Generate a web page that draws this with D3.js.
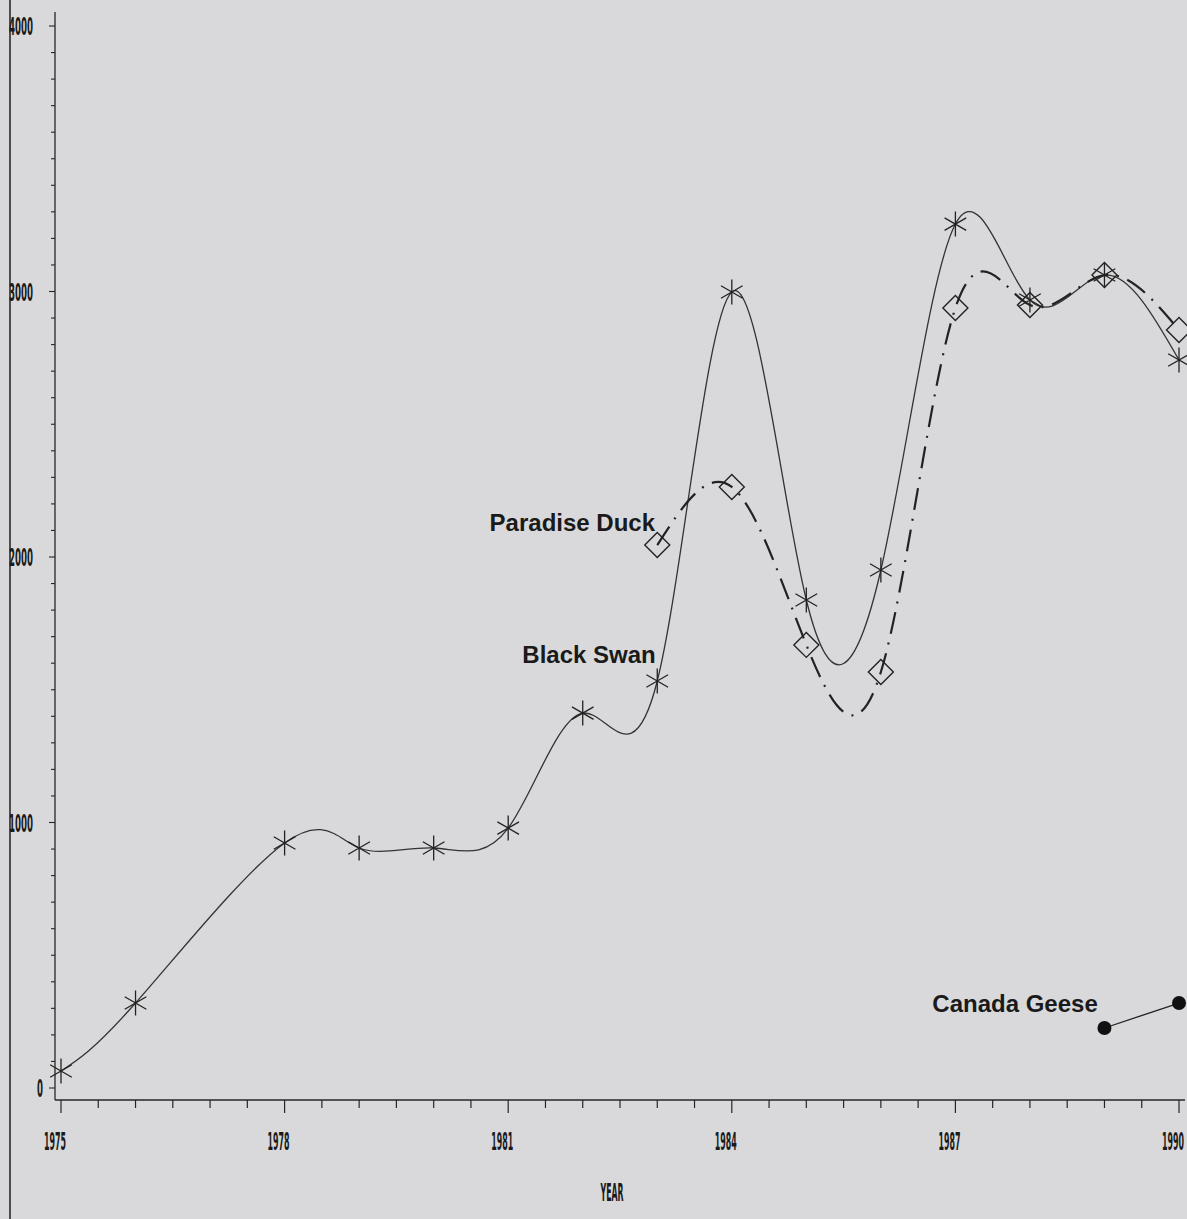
<!DOCTYPE html>
<html>
<head>
<meta charset="utf-8">
<script src="https://cdn.jsdelivr.net/npm/d3@7"></script>
<style>
  body { margin: 0; background: #d9d9db; }
  .tick-label { font-family: "Liberation Sans Narrow", "DejaVu Sans Condensed", sans-serif; font-weight: bold; fill: #1a1a1a; }
  .series-label { font-family: "Liberation Sans", Arial, sans-serif; font-weight: bold; font-size: 24px; fill: #1a1a1a; }
</style>
</head>
<body>
<div id="chart"></div>
<script>
// Data
const swanYears = [1975, 1976, 1978, 1979, 1980, 1981, 1982, 1983, 1984, 1985, 1986, 1987, 1988, 1989, 1990];
const swanValues = [64, 320, 923, 904, 904, 979, 1412, 1533, 2998, 1838, 1951, 3254, 2968, 3062, 2742];

const duckYears = [1983, 1984, 1985, 1986, 1987, 1988, 1989, 1990];
const duckValues = [2045, 2264, 1669, 1567, 2938, 2949, 3062, 2855];

const geeseYears = [1989, 1990];
const geeseValues = [226, 320];

const xTickYears = [1975, 1978, 1981, 1984, 1987, 1990];
const yTickValues = [0, 1000, 2000, 3000, 4000];

// label anchors in data units (year, value)
const labels = [
  { text: "Paradise Duck", year: 1982.97, value: 2098 },
  { text: "Black Swan", year: 1982.98, value: 1601 },
  { text: "Canada Geese", year: 1988.91, value: 286 }
];

const W = 1187, H = 1219;

const svg = d3.select("#chart")
  .append("svg")
  .attr("width", W)
  .attr("height", H);

svg.append("rect").attr("width", W).attr("height", H).attr("fill", "#d9d9db");

// page edge line from the scan
svg.append("line")
  .attr("x1", 10).attr("x2", 10).attr("y1", 0).attr("y2", H)
  .attr("stroke", "#2a2a2a").attr("stroke-width", 1.6);

const x = d3.scaleLinear().domain([1975, 1990]).range([61, 1179]);
const y = d3.scaleLinear().domain([0, 4000]).range([1088, 26]);

const axisY0 = 1100;
const axisX0 = 55;
const ink = "#262626";

// Y axis line and ticks (every 100)
svg.append("line")
  .attr("x1", axisX0).attr("x2", axisX0).attr("y1", 12).attr("y2", axisY0)
  .attr("stroke", ink).attr("stroke-width", 1.3);

svg.append("g").selectAll("line")
  .data(d3.range(0, 4001, 100))
  .join("line")
  .attr("x1", d => d % 1000 === 0 ? axisX0 - 6 : axisX0 - 4)
  .attr("x2", axisX0)
  .attr("y1", d => y(d)).attr("y2", d => y(d))
  .attr("stroke", ink).attr("stroke-width", 1.1);

svg.append("g").selectAll("text")
  .data(yTickValues)
  .join("text")
  .attr("class", "tick-label")
  .attr("x", d => d === 0 ? 43 : 33)
  .attr("y", d => y(d) + 9)
  .attr("text-anchor", "end")
  .attr("font-size", 25)
  .attr("textLength", d => String(d).length * 6)
  .attr("lengthAdjust", "spacingAndGlyphs")
  .text(d => d);

// X axis line and ticks (every half year)
svg.append("line")
  .attr("x1", axisX0).attr("x2", 1185).attr("y1", axisY0).attr("y2", axisY0)
  .attr("stroke", ink).attr("stroke-width", 1.3);

svg.append("g").selectAll("line")
  .data(d3.range(1975, 1990.01, 0.5))
  .join("line")
  .attr("x1", d => x(d)).attr("x2", d => x(d))
  .attr("y1", axisY0)
  .attr("y2", d => (d - 1975) % 3 === 0 ? axisY0 + 13 : axisY0 + 8)
  .attr("stroke", ink).attr("stroke-width", 1.2);

svg.append("g").selectAll("text")
  .data(xTickYears)
  .join("text")
  .attr("class", "tick-label")
  .attr("x", d => x(d) - 6)
  .attr("y", 1150)
  .attr("text-anchor", "middle")
  .attr("font-size", 25)
  .attr("textLength", 22)
  .attr("lengthAdjust", "spacingAndGlyphs")
  .text(d => d);

svg.append("text")
  .attr("class", "tick-label")
  .attr("x", 612)
  .attr("y", 1201)
  .attr("text-anchor", "middle")
  .attr("font-size", 25)
  .attr("textLength", 23)
  .attr("lengthAdjust", "spacingAndGlyphs")
  .text("YEAR");

// Lines
const line = d3.line()
  .x(d => x(d[0]))
  .y(d => y(d[1]))
  .curve(d3.curveNatural);

const swan = swanYears.map((yr, i) => [yr, swanValues[i]]);
const duck = duckYears.map((yr, i) => [yr, duckValues[i]]);
const geese = geeseYears.map((yr, i) => [yr, geeseValues[i]]);

svg.append("path")
  .datum(swan)
  .attr("d", line)
  .attr("fill", "none")
  .attr("stroke", "#333")
  .attr("stroke-width", 1.3);

svg.append("path")
  .datum(duck)
  .attr("d", line)
  .attr("fill", "none")
  .attr("stroke", "#222")
  .attr("stroke-width", 2.2)
  .attr("stroke-dasharray", "22,9,2,9");

svg.append("path")
  .datum(geese)
  .attr("d", d3.line().x(d => x(d[0])).y(d => y(d[1])))
  .attr("fill", "none")
  .attr("stroke", "#222")
  .attr("stroke-width", 1.3);

// Markers
const r = 12.5;
const c = Math.cos(Math.PI / 6) * r, s = Math.sin(Math.PI / 6) * r;
const asterisk = `M0,${-r}L0,${r}M${-c},${-s}L${c},${s}M${-c},${s}L${c},${-s}`;

svg.append("g").selectAll("path")
  .data(swan)
  .join("path")
  .attr("transform", d => `translate(${x(d[0])},${y(d[1])})`)
  .attr("d", asterisk)
  .attr("fill", "none")
  .attr("stroke", "#222")
  .attr("stroke-width", 1.3);

svg.append("g").selectAll("path")
  .data(duck)
  .join("path")
  .attr("transform", d => `translate(${x(d[0])},${y(d[1])})`)
  .attr("d", `M0,${-r}L${r},0L0,${r}L${-r},0Z`)
  .attr("fill", "none")
  .attr("stroke", "#222")
  .attr("stroke-width", 1.4);

svg.append("g").selectAll("circle")
  .data(geese)
  .join("circle")
  .attr("cx", d => x(d[0]))
  .attr("cy", d => y(d[1]))
  .attr("r", 7)
  .attr("fill", "#111");

// Series labels
svg.append("g").selectAll("text")
  .data(labels)
  .join("text")
  .attr("class", "series-label")
  .attr("x", d => x(d.year))
  .attr("y", d => y(d.value))
  .attr("text-anchor", "end")
  .text(d => d.text);
</script>
</body>
</html>
